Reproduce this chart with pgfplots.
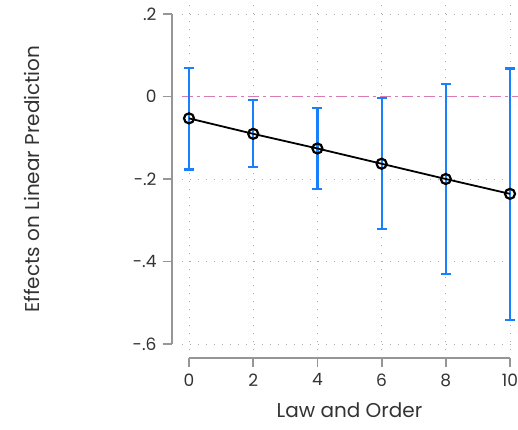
\documentclass[border=0pt]{standalone}
\usepackage{fontspec}
\setmainfont{Poppins}
\usepackage{pgfplots}
\usepackage{pgfplotstable}
\pgfplotsset{compat=1.18}
\definecolor{cibar}{RGB}{24,128,250}
\definecolor{refpink}{RGB}{214,124,176}
\definecolor{axgray}{RGB}{150,150,150}
\pgfplotstableread{
x y ep em
0 -0.053 0.123 0.124
2 -0.0905 0.0815 0.0805
4 -0.126 0.099 0.099
6 -0.163 0.159 0.159
8 -0.200 0.231 0.230
10 -0.236 0.304 0.305
}\data
\begin{document}
\begin{tikzpicture}
\begin{axis}[
  scale only axis, width=321pt, height=330pt,
  xmin=0, xmax=10, ymin=-0.6, ymax=0.2,
  clip=false,
  axis lines*=left,
  axis x line shift=14pt, axis y line shift=17pt,
  axis line style={draw=axgray, line width=1.8pt},
  tick style={draw=axgray, line width=1.8pt},
  tick align=outside, major tick length=9pt,
  xtick={0,2,4,6,8,10},
  ytick={-0.6,-0.4,-0.2,0,0.2},
  yticklabels={-.6,-.4,-.2,0,.2},
  /pgf/number format/assume math mode=true,
  ticklabel style={font=\fontsize{17}{20}\selectfont, text=black!80},
  yticklabel style={xshift=-3pt},
  xticklabel style={yshift=-3pt},
  xlabel={Law and Order}, ylabel={Effects on Linear Prediction},
  label style={font=\fontsize{20}{24}\selectfont, text=black!80},
  xlabel style={at={(axis description cs:0.5,-0.2)}, anchor=center},
  ylabel style={at={(axis description cs:-0.489,0.5)}, anchor=center},
]
% axis lines (explicit)
\draw[axgray, line width=1.8pt] ([xshift=-17pt]axis cs:0,-0.6) -- ([xshift=-17pt]axis cs:0,0.2);
\draw[axgray, line width=1.8pt] ([yshift=-14pt]axis cs:0,-0.6) -- ([yshift=-14pt]axis cs:10,-0.6);
% grid
\pgfplotsinvokeforeach{0,2,4,6,8,10}{
  \addplot[draw=axgray!80, line width=1pt, dash pattern=on 1.2pt off 6.8pt, forget plot] coordinates {(#1,-0.615) (#1,0.235)};
}
\pgfplotsinvokeforeach{-0.6,-0.4,-0.2,0.2}{
  \addplot[draw=axgray!80, line width=1pt, dash pattern=on 1.2pt off 6.8pt, forget plot] coordinates {(-0.22,#1) (10.35,#1)};
}
% reference line
\addplot[draw=refpink, line width=1.8pt, dash pattern=on 11pt off 4pt on 3pt off 4pt, forget plot] coordinates {(-0.22,0) (10.35,0)};
% CIs
\addplot[draw=none, mark=none, forget plot,
  error bars/.cd, y dir=both, y explicit,
  error bar style={draw=cibar, line width=2.2pt},
  error mark options={draw=cibar, rotate=90, line width=2.2pt, mark size=5pt}]
  table[x=x, y=y, y error plus=ep, y error minus=em] {\data};
% estimates
\addplot[draw=black, line width=1.8pt, mark=o, mark size=5pt, mark options={line width=2.2pt, fill=none}]
  table[x=x, y=y] {\data};
\coordinate (O) at (axis cs:0,-0.6);
\end{axis}
\pgfresetboundingbox
\path (O) ++(-189pt,-85pt) rectangle ++(518pt,429pt);
\end{tikzpicture}
\end{document}
